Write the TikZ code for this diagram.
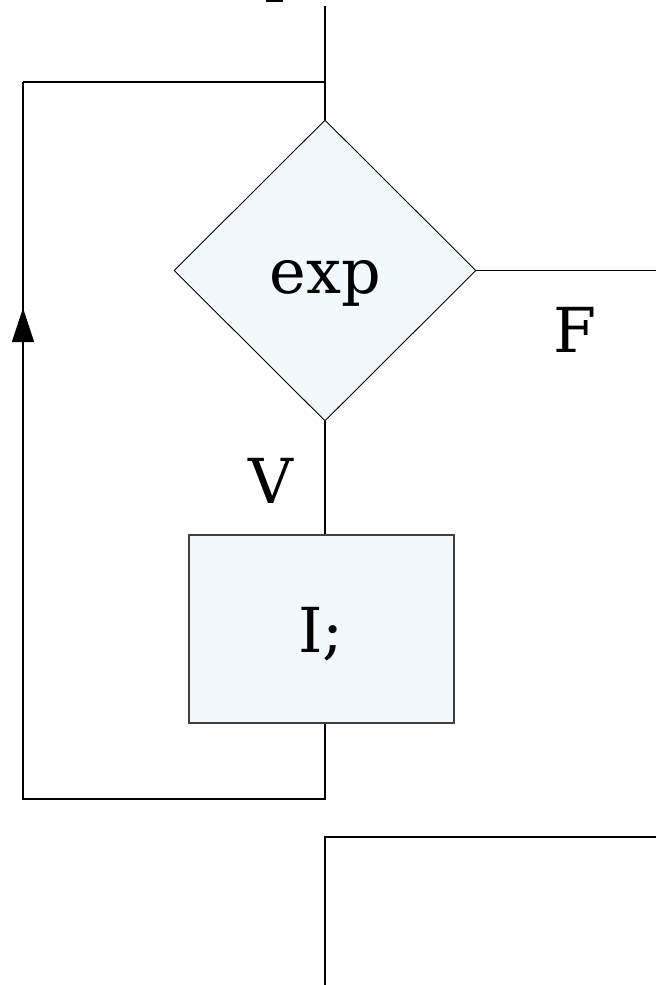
\documentclass[tikz,border=0pt]{standalone}
\usepackage{fontspec}
\setmainfont{DejaVu Serif}
\usetikzlibrary{shapes.geometric,arrows.meta}
\definecolor{boxfill}{HTML}{F2F9FD}
\tikzset{
  flow/.style={line width=1.2pt, draw=black},
  decision/.style={diamond, draw=black, line width=0.9pt, fill=boxfill,
    minimum width=302pt, minimum height=301pt, inner sep=0pt, aspect=1},
  action/.style={rectangle, draw=black!75, line width=1.2pt, fill=boxfill,
    minimum width=265pt, minimum height=188pt, inner sep=0pt},
  label/.style={font=\fontsize{62}{74}\selectfont, inner sep=0pt, anchor=base}
}
\begin{document}
\begin{tikzpicture}[x=1pt,y=-1pt]
  \useasboundingbox (0,0) rectangle (656,985);
  % loop condition and body
  \node[decision] (cond) at (325,270.5) {};
  \node[action] (body) at (321.5,629) {};
  \node[label] (condtxt) at (325,293) {exp};
  \node[label] (bodytxt) at (321,652) {I;};
  \node[label] (vlab) at (271,503) {V};
  \node[label] (flab) at (575,352) {F};
  % fragment of the preceding text at the top edge
  \fill (266,0) rectangle (283,2);
  % corner points of the connectors
  \coordinate (entry) at (325,6);
  \coordinate (join) at (325,82);
  \coordinate (loopTL) at (23,82);
  \coordinate (loopBL) at (23,799);
  \coordinate (loopBR) at (325,799);
  \coordinate (arrowtip) at (23,308);
  \coordinate (exitR) at (656,270.5);
  \coordinate (exitTR) at (656,837);
  \coordinate (exitTL) at (325,837);
  \coordinate (exitEnd) at (325,985);
  % connectors
  \draw[flow] (entry) -- (cond.north);
  \draw[flow] (loopTL) -- (join);
  \draw[flow] (cond.south) -- (body.north -| cond.south);
  \draw[flow] (body.south -| cond.south) -- (loopBR) -- (loopBL) -- (loopTL);
  \draw[flow, -{Triangle[length=34pt,width=22pt]}] (loopBL) -- (arrowtip);
  \draw[flow] (cond.east) -- (exitR);
  \draw[flow] (exitTR) -- (exitTL) -- (exitEnd);
\end{tikzpicture}
\end{document}
